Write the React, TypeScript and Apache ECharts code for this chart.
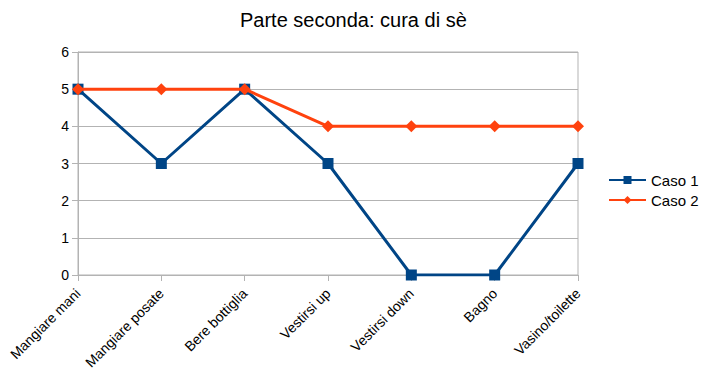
import React, { useEffect, useRef } from "react";
import * as echarts from "echarts";

const categories = ["Mangiare mani", "Mangiare posate", "Bere bottiglia", "Vestirsi up", "Vestirsi down", "Bagno", "Vasino/toilette"];
const caso1 = [5, 3, 5, 3, 0, 0, 3];
const caso2 = [5, 5, 5, 4, 4, 4, 4];
const seriesNames = ["Caso 1", "Caso 2"];
const titleText = "Parte seconda: cura di sè";

export default function App() {
  const ref = useRef<HTMLDivElement>(null);
  useEffect(() => {
    if (!ref.current) return;
    const chart = echarts.init(ref.current, undefined, { renderer: "svg" });
    const font = "'Liberation Sans', Arial, sans-serif";
    chart.setOption({
      animation: false,
      backgroundColor: "#ffffff",
      textStyle: { fontFamily: font },
      title: {
        text: titleText,
        left: 235,
        top: 5,
        textStyle: { fontFamily: font, fontSize: 20, fontWeight: "normal", color: "#000" },
      },
      grid: {
        left: 78,
        right: 124,
        top: 52,
        bottom: 109,
        show: true,
        borderColor: "#b3b3b3",
        borderWidth: 1,
      },
      legend: {
        orient: "vertical",
        left: 603,
        top: 165,
        itemWidth: 37,
        itemHeight: 10,
        itemGap: 0,
        textStyle: { fontFamily: font, fontSize: 15, lineHeight: 20, color: "#000" },
        data: seriesNames,
      },
      xAxis: {
        type: "category",
        data: categories,
        boundaryGap: false,
        axisLine: { lineStyle: { color: "#b3b3b3" } },
        axisTick: { show: true, length: 6, lineStyle: { color: "#b3b3b3" }, interval: 0 },
        axisLabel: { rotate: 45, interval: 0, fontSize: 14, color: "#000", fontFamily: font, margin: 16 },
        splitLine: { show: false },
      },
      yAxis: {
        type: "value",
        min: 0,
        max: 6,
        interval: 1,
        axisLine: { show: true, lineStyle: { color: "#b3b3b3" } },
        axisTick: { show: true, length: 6, lineStyle: { color: "#b3b3b3" } },
        axisLabel: { fontSize: 14, color: "#000", fontFamily: font, margin: 9 },
        splitLine: { show: true, lineStyle: { color: "#b3b3b3" } },
      },
      series: [
        {
          name: seriesNames[0],
          type: "line",
          data: caso1,
          symbol: "rect",
          symbolSize: 11,
          color: "#004586",
          lineStyle: { width: 3, color: "#004586" },
          itemStyle: { color: "#004586" },
          z: 2,
        },
        {
          name: seriesNames[1],
          type: "line",
          data: caso2,
          symbol: "diamond",
          symbolSize: 12,
          color: "#ff420e",
          lineStyle: { width: 3, color: "#ff420e" },
          itemStyle: { color: "#ff420e" },
          z: 3,
        },
      ],
    });
    return () => chart.dispose();
  }, []);
  return <div ref={ref} style={{ width: 702, height: 384, position: "fixed", left: 0, top: 0 }} />;
}
